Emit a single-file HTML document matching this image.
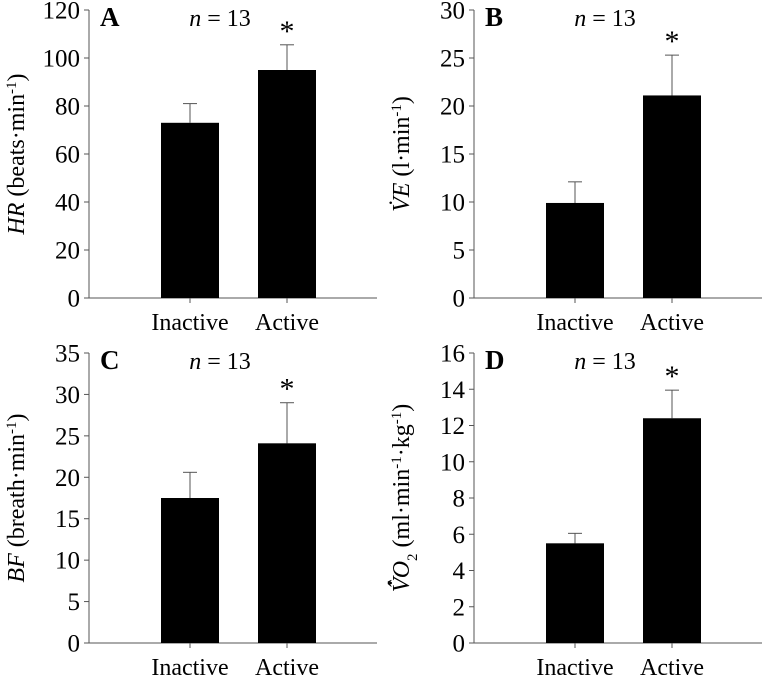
<!DOCTYPE html>
<html><head><meta charset="utf-8"><style>
body{margin:0;background:#fff;}
svg{display:block;font-family:"Liberation Serif",serif;}
</style></head><body>
<svg id="c" width="769" height="676" viewBox="0 0 769 676"></svg>
<script>
const categories = ["Inactive","Active"];
const panelLetters = ["A","B","C","D"];
const meansA = [73, 95];
const errsA = [8, 10.5];
const meansB = [9.9, 21.1];
const errsB = [2.2, 4.2];
const meansC = [17.5, 24.1];
const errsC = [3.1, 4.9];
const meansD = [5.5, 12.4];
const errsD = [0.55, 1.55];
const ticksA = [0,20,40,60,80,100,120];
const ticksB = [0,5,10,15,20,25,30];
const ticksC = [0,5,10,15,20,25,30,35];
const ticksD = [0,2,4,6,8,10,12,14,16];

const svg = document.getElementById('c');
const NS = 'http://www.w3.org/2000/svg';
function mk(tag, attrs, parent){
  const e = document.createElementNS(NS, tag);
  for (const k in attrs) e.setAttribute(k, attrs[k]);
  (parent||svg).appendChild(e);
  return e;
}
const panels = [
  {ox:89, top:10, bot:298, means:meansA, errs:errsA, ticks:ticksA, title:'<tspan font-style="italic">HR</tspan> (beats·min<tspan baseline-shift="super" font-size="15">-1</tspan>)'},
  {ox:474, top:10, bot:298, means:meansB, errs:errsB, ticks:ticksB, title:'<tspan font-style="italic">V̇E</tspan> (l·min<tspan baseline-shift="super" font-size="15">-1</tspan>)'},
  {ox:89, top:353, bot:643, means:meansC, errs:errsC, ticks:ticksC, title:'<tspan font-style="italic">BF</tspan> (breath·min<tspan baseline-shift="super" font-size="15">-1</tspan>)'},
  {ox:474, top:353, bot:643, means:meansD, errs:errsD, ticks:ticksD, title:'<tspan font-style="italic">V̂̇O</tspan><tspan baseline-shift="sub" font-size="15">2</tspan> (ml·min<tspan baseline-shift="super" font-size="15">-1</tspan>·kg<tspan baseline-shift="super" font-size="15">-1</tspan>)'}
];
panels.forEach((p, i) => {
  const g = mk('g', {});
  
  
  const maxV = p.ticks[p.ticks.length-1];
  const y = v => p.bot - (v / maxV) * (p.bot - p.top);
  const xc = k => p.ox + 101 + k * 97;
  const ax = mk('line', {x1:p.ox, y1:p.top, x2:p.ox, y2:p.bot, stroke:'#555', 'stroke-width':1}, g);
  
  
  const bx = mk('line', {x1:p.ox, y1:p.bot, x2:p.ox+288, y2:p.bot, stroke:'#555', 'stroke-width':1}, g);
  
  
  p.ticks.forEach(t => {
    mk('line', {x1:p.ox-5, y1:y(t), x2:p.ox, y2:y(t), stroke:'#555'}, g);
    const tl = mk('text', {x:p.ox-9, y:y(t)+8.5, 'text-anchor':'end', 'font-size':25}, g);
    tl.textContent = t;
    
    
  });
  categories.forEach((c, k) => {
    const cx = xc(k);
    mk('line', {x1:cx, y1:p.bot, x2:cx, y2:p.bot+5, stroke:'#555'}, g);
    mk('line', {x1:cx, y1:y(p.means[k]), x2:cx, y2:y(p.means[k]+p.errs[k]), stroke:'#555'}, g);
    mk('line', {x1:cx-7, y1:y(p.means[k]+p.errs[k]), x2:cx+7, y2:y(p.means[k]+p.errs[k]), stroke:'#555'}, g);
    const b = mk('rect', {x:cx-29, y:y(p.means[k]), width:58, height:p.bot-y(p.means[k]), fill:'#000'}, g);
    
    
    const cl = mk('text', {x:cx, y:p.bot+32, 'text-anchor':'middle', 'font-size':24}, g);
    cl.textContent = c;
    
    
  });
  const st = mk('text', {x:xc(1), y:y(p.means[1]+p.errs[1])-4, 'text-anchor':'middle', 'font-size':30}, g);
  st.textContent = '*';
  
  
  const L = mk('text', {x:p.ox+11, y:p.top+16, 'font-size':27, 'font-weight':'bold'}, g);
  L.textContent = panelLetters[i];
  
  
  const n = mk('text', {x:p.ox+131, y:p.top+16, 'text-anchor':'middle', 'font-size':24}, g);
  n.innerHTML = '<tspan font-style="italic">n</tspan> = 13';
  
  
  const cy = (p.top + p.bot) / 2;
  const tt = mk('text', {x:p.ox-65, y:cy, 'text-anchor':'middle', 'font-size':24, transform:'rotate(-90 '+(p.ox-65)+' '+cy+')'}, g);
  tt.innerHTML = p.title;
  
  
});
</script>
</body></html>
